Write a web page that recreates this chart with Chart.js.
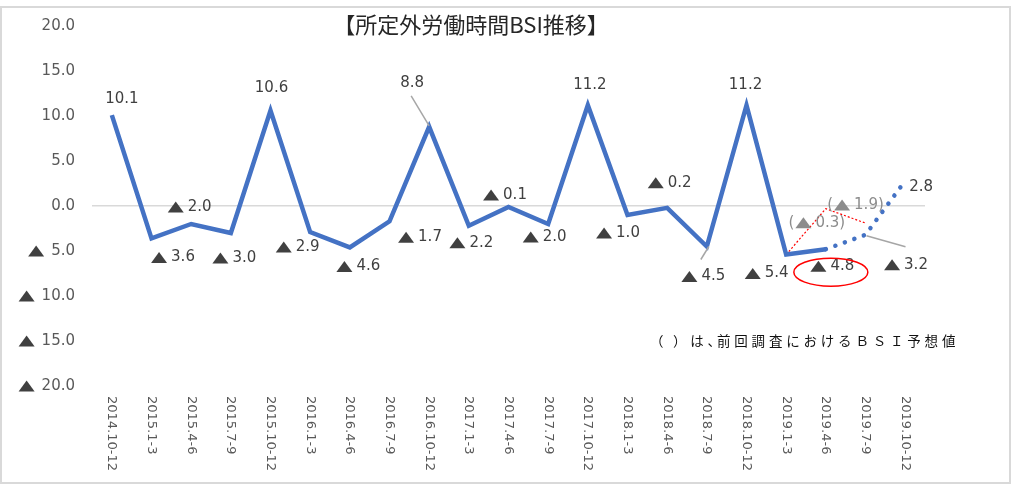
<!DOCTYPE html>
<html>
<head>
<meta charset="utf-8">
<script src="https://cdn.jsdelivr.net/npm/chart.js@4/dist/chart.umd.min.js"></script>
<style>
html, body { margin: 0; padding: 0; background: #fff; }
</style>
</head>
<body>
<canvas id="js-line-chart" width="1020" height="489"></canvas>
<script>
// data (▲ = minus)
const categories = [
    "2014.10-12", "2015.1-3", "2015.4-6", "2015.7-9", "2015.10-12",
    "2016.1-3", "2016.4-6", "2016.7-9", "2016.10-12", "2017.1-3",
    "2017.4-6", "2017.7-9", "2017.10-12", "2018.1-3", "2018.4-6",
    "2018.7-9", "2018.10-12", "2019.1-3", "2019.4-6", "2019.7-9", "2019.10-12"
];
const actualValues = [10.1, -3.6, -2.0, -3.0, 10.6, -2.9, -4.6, -1.7, 8.8, -2.2, -0.1, -2.0, 11.2, -1.0, -0.2, -4.5, 11.2, -5.4, -4.8];
const forecastValues = [-3.2, 2.8];
const prevForecastValues = [-0.3, -1.9];
const yTicks = [20, 15, 10, 5, 0, -5, -10, -15, -20];
const titleText = "【所定外労働時間BSI推移】";

// label offsets from the point, in px (dx, dy)
const labelOffsets = [
    [10, -16], [21, 19], [-2, -17], [3, 25], [1, -22], [-13, 15], [8, 19], [30, 16],
    [-17, -44], [2, 17], [-4, -12], [-4, 13], [2, -20], [-10, 18], [2, -25], [-4, 30],
    [-1, -20], [-20, 19], [6, 17], [40, 30], [16, 6]
];
const prevLabelOffsets = [[-9, 14], [-10, -18]];

const series = actualValues.concat(forecastValues);
const prevSeries = categories.map(() => null);
const lastActual = actualValues.length - 1;
prevSeries[lastActual - 1] = actualValues[lastActual - 1];
prevForecastValues.forEach((v, i) => { prevSeries[lastActual + i] = v; });

const FONT = '"DejaVu Sans", sans-serif';

function drawTriangle(ctx, x, cy, color) {
    ctx.fillStyle = color;
    ctx.beginPath();
    ctx.moveTo(x, cy + 5.5);
    ctx.lineTo(x + 8, cy - 5.5);
    ctx.lineTo(x + 16, cy + 5.5);
    ctx.closePath();
    ctx.fill();
}

function drawValue(ctx, v, cx, cy, color, triColor, paren) {
    const num = Math.abs(v).toFixed(1);
    const open = paren ? "(" : "";
    const close = paren ? ")" : "";
    const wOpen = ctx.measureText(open).width;
    const wNum = ctx.measureText(num + close).width;
    const wTri = v < 0 ? 21 : 0;
    let x = cx - (wOpen + wTri + wNum) / 2;
    ctx.textAlign = "left";
    ctx.textBaseline = "middle";
    ctx.fillStyle = color;
    if (paren) ctx.fillText(open, x, cy);
    x += wOpen;
    if (v < 0) {
        drawTriangle(ctx, x + 1, cy, triColor);
        x += wTri;
    }
    ctx.fillStyle = color;
    ctx.fillText(num + close, x, cy);
}

const decorPlugin = {
    id: "decor",
    afterDraw(chart) {
        const ctx = chart.ctx;
        const xs = chart.scales.x;
        const ys = chart.scales.y;
        const px = (i) => xs.getPixelForValue(i);
        const py = (v) => ys.getPixelForValue(v);
        ctx.save();

        // border
        ctx.strokeStyle = "#d9d9d9";
        ctx.lineWidth = 2;
        ctx.strokeRect(1, 7, 1009, 476);

        // title
        ctx.fillStyle = "#262626";
        ctx.font = '22px "Noto Sans CJK JP"';
        ctx.textAlign = "center";
        ctx.textBaseline = "middle";
        ctx.fillText(titleText, 471, 25);

        // y tick labels, ▲ for minus
        ctx.font = "15px " + FONT;
        yTicks.forEach((t) => {
            const y = py(t);
            const num = String(Math.abs(t)) + ".0";
            const w = ctx.measureText(num).width;
            if (t < 0) drawTriangle(ctx, 74 - w - 22, y, "#404040");
            ctx.fillStyle = "#595959";
            ctx.textAlign = "right";
            ctx.textBaseline = "middle";
            ctx.fillText(num, 75, y);
        });

        // x labels, top to bottom
        ctx.font = "13px " + FONT;
        ctx.fillStyle = "#595959";
        categories.forEach((c, i) => {
            ctx.save();
            ctx.translate(px(i), 396);
            ctx.rotate(Math.PI / 2);
            ctx.textAlign = "left";
            ctx.textBaseline = "middle";
            ctx.fillText(c, 0, 0);
            ctx.restore();
        });

        // leader lines
        ctx.strokeStyle = "#a6a6a6";
        ctx.lineWidth = 1.5;
        const leaders = [[8, -18, -31, 0, -1], [15, -6, 13, 2, 0], [19, 1, 1, 40, 12]];
        leaders.forEach(([i, x1, y1, x2, y2]) => {
            const x = px(i), y = py(series[i]);
            ctx.beginPath();
            ctx.moveTo(x + x1, y + y1);
            ctx.lineTo(x + x2, y + y2);
            ctx.stroke();
        });

        // data labels
        ctx.font = "15px " + FONT;
        series.forEach((v, i) => {
            const [dx, dy] = labelOffsets[i];
            drawValue(ctx, v, px(i) + dx, py(v) + dy, "#404040", "#404040", false);
        });
        prevForecastValues.forEach((v, k) => {
            const i = lastActual + k;
            const [dx, dy] = prevLabelOffsets[k];
            drawValue(ctx, v, px(i) + dx, py(v) + dy, "#8c8c8c", "#8c8c8c", true);
        });

        // red ellipse round the latest value
        ctx.strokeStyle = "#ff0000";
        ctx.lineWidth = 1.5;
        ctx.beginPath();
        ctx.ellipse(px(lastActual) + 5, py(series[lastActual]) + 23, 37, 14, 0, 0, Math.PI * 2);
        ctx.stroke();

        // note
        ctx.fillStyle = "#111";
        ctx.font = '13.5px "Noto Sans CJK JP"';
        ctx.textAlign = "left";
        ctx.textBaseline = "middle";
        ctx.letterSpacing = "3.8px";
        ctx.fillText("（", 650, 341);
        ctx.fillText("）は、", 673, 341);
        ctx.fillText("前回調査におけるＢＳＩ予想値", 717, 341);
        ctx.letterSpacing = "0px";
        ctx.restore();
    }
};

const chart = new Chart(document.getElementById("js-line-chart").getContext("2d"), {
    type: "line",
    data: {
        labels: categories,
        datasets: [
            {
                label: "BSI",
                data: series,
                borderColor: "#4472c4",
                borderWidth: 4.5,
                pointRadius: 0,
                tension: 0,
                segment: {
                    borderDash: (c) => (c.p0DataIndex >= lastActual ? [0.1, 10] : undefined),
                    borderCapStyle: (c) => (c.p0DataIndex >= lastActual ? "round" : "butt"),
                },
            },
            {
                label: "前回予想",
                data: prevSeries,
                borderColor: "#ff0000",
                borderWidth: 1.2,
                borderDash: [2, 2],
                pointRadius: 0,
                tension: 0,
            },
        ],
    },
    options: {
        responsive: false,
        animation: false,
        layout: { padding: { top: 26, right: 95, left: 0, bottom: 0 } },
        plugins: {
            legend: { display: false },
            tooltip: { enabled: false },
            title: { display: false },
        },
        scales: {
            x: {
                offset: true,
                grid: { display: false },
                border: { display: false },
                ticks: { display: false },
                afterFit: (s) => { s.height = 103; },
            },
            y: {
                min: yTicks[yTicks.length - 1],
                max: yTicks[0],
                afterBuildTicks: (s) => { s.ticks = yTicks.map((v) => ({ value: v })); },
                ticks: { display: false },
                grid: {
                    drawTicks: false,
                    color: (c) => (c.tick && c.tick.value === 0 ? "#d9d9d9" : "transparent"),
                    lineWidth: 1.5,
                },
                border: { display: false },
                afterFit: (s) => { s.width = 92; },
            },
        },
    },
    plugins: [decorPlugin],
});
</script>
</body>
</html>
